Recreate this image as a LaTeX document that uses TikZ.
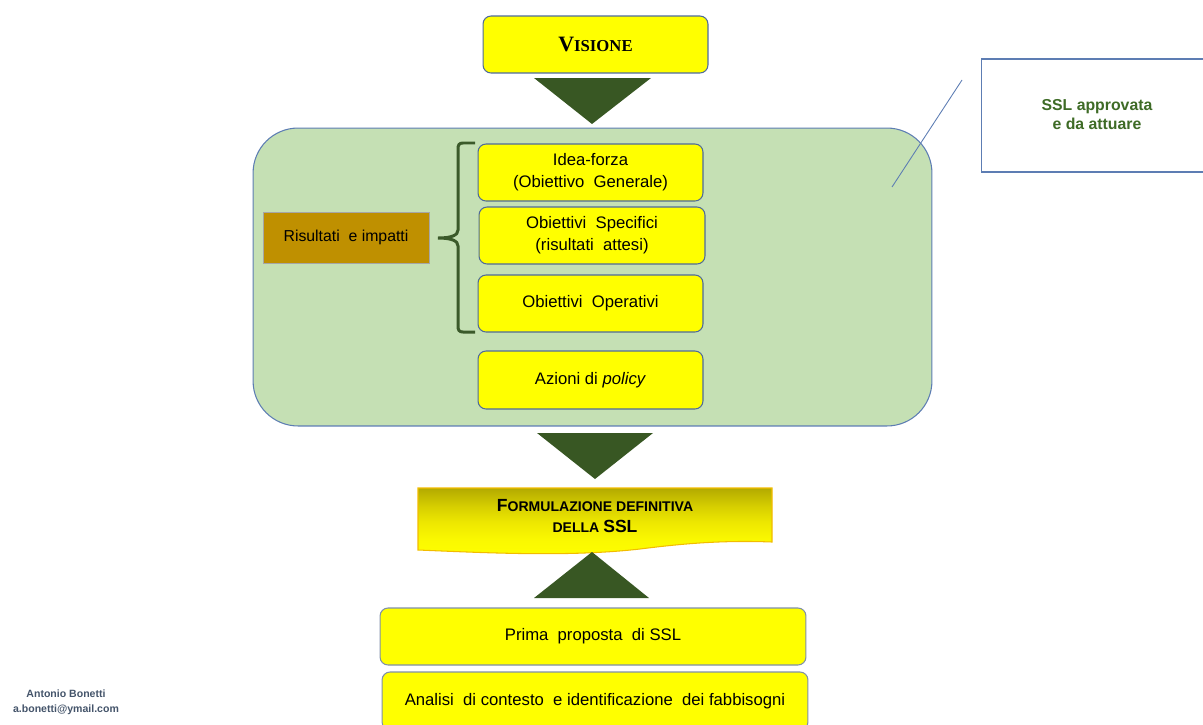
\documentclass[tikz,border=0pt]{standalone}
\usepackage{fontspec}
\setmainfont{Liberation Sans}
\newfontfamily\visfont{Liberation Serif}
\definecolor{ylw}{HTML}{FFFF00}
\definecolor{bordb}{HTML}{4F6A9A}
\definecolor{bordg}{HTML}{7F8FA9}
\definecolor{panelg}{HTML}{C5E0B4}
\definecolor{panelb}{HTML}{5D7DB3}
\definecolor{dkgreen}{HTML}{385723}
\definecolor{bracec}{HTML}{3B5A2A}
\definecolor{gold}{HTML}{BF9000}
\definecolor{goldb}{HTML}{A6A6A6}
\definecolor{sslg}{HTML}{3E6B26}
\definecolor{footc}{HTML}{44546A}
\definecolor{olivetop}{HTML}{B3AA00}
\definecolor{olivequart}{HTML}{D6CE00}
\definecolor{olivemid}{HTML}{EEE800}
\definecolor{olivelow}{HTML}{FAF800}
\definecolor{orangeb}{HTML}{F2BC00}
\pgfdeclareverticalshading{formshade}{100bp}{color(0bp)=(ylw); color(25bp)=(ylw); color(38bp)=(olivelow); color(50bp)=(olivemid); color(62bp)=(olivequart); color(75bp)=(olivetop); color(100bp)=(olivetop)}
\begin{document}
\begin{tikzpicture}[x=0.02cm,y=-0.02cm,
  ybox/.style={draw=bordb, fill=ylw, rounded corners=0.16cm, inner sep=0pt, align=center,
    line width=0.6pt, font=\fontsize{9.5}{12.5}\selectfont},
  gbox/.style={ybox, draw=bordg},
  panelbox/.style={draw=panelb, fill=panelg, rounded corners=0.9cm, line width=0.6pt, inner sep=0pt},
  tri/.style={fill=dkgreen},
  bracestyle/.style={draw=bracec, line width=1.7pt},
  callout/.style={draw=panelb, line width=0.5pt}]
\useasboundingbox (0,0) rectangle (1203,724);

% Visione
\node[ybox, minimum width=4.5cm, minimum height=1.14cm] (visione) at (595.5,44.5)
  {\visfont\bfseries{\fontsize{12.5}{14}\selectfont V}{\fontsize{9.5}{12}\selectfont ISIONE}};
\fill[tri] (534,78) -- (651,78) -- (592,124) -- cycle;

% green panel
\node[panelbox, minimum width=13.58cm, minimum height=5.96cm] (panel) at (592.5,277) {};

% callout line and box
\coordinate (calloutA) at (962,80);
\coordinate (calloutB) at (892,187);
\draw[callout] (calloutA) -- (calloutB);
\node[draw=panelb, fill=white, line width=0.6pt, minimum width=4.48cm, minimum height=2.26cm, inner sep=0pt] (sslbox) at (1093,115.5) {};
\node[align=center, text=sslg, font=\bfseries\fontsize{9}{10.8}\selectfont] (ssltext) at (1097,115) {SSL approvata\\e da attuare};

% inner boxes
\node[ybox, minimum width=4.5cm, minimum height=1.14cm] (idea) at (590.5,172.5) {Idea-forza\\(Obiettivo\ \ Generale)};
\node[ybox, minimum width=4.52cm, minimum height=1.14cm] (spec) at (592,235.5) {Obiettivi\ \ Specifici\\(risultati\ \ attesi)};
\node[ybox, minimum width=4.5cm, minimum height=1.14cm] (oper) at (590.5,303.5) {Obiettivi\ \ Operativi};
\node[ybox, minimum width=4.5cm, minimum height=1.16cm] (azioni) at (590.5,380) {Azioni di \textit{policy}};

\node[draw=goldb, fill=gold, minimum width=3.32cm, minimum height=1.02cm, inner sep=0pt,
  font=\fontsize{9}{11}\selectfont, line width=0.5pt] (risult) at (346,237.5) {Risultati\ \ e impatti};

% brace
\draw[bracestyle] (475,143) -- (463,143) .. controls (459,143) and (458,145) .. (458,149) -- (458,230)
  .. controls (458,235) and (452,238) .. (438,238)
  .. controls (452,238) and (458,241) .. (458,246) -- (458,326)
  .. controls (458,330) and (459,332) .. (463,332) -- (475,332);

\fill[tri] (537,433) -- (653,433) -- (595,479) -- cycle;

% Formulazione
\path[shading=formshade, draw=orangeb, line width=0.6pt]
  (418,488) -- (772,488) -- (772,542)
  .. controls (720,540) and (680,544) .. (640,549)
  .. controls (570,557) and (490,553) .. (418,550) -- cycle;
\node[align=center, font=\bfseries\fontsize{8}{12}\selectfont] (formul) at (595,516)
  {{\fontsize{10}{12}\selectfont F}ORMULAZIONE DEFINITIVA\\DELLA {\fontsize{10}{12}\selectfont SSL}};

\fill[tri] (534,598) -- (649,598) -- (592,552) -- cycle;

% bottom boxes
\node[gbox, minimum width=8.52cm, minimum height=1.14cm] (prima) at (593,636.5) {Prima\ \ proposta\ \ di SSL};
\node[gbox, minimum width=8.52cm, minimum height=1.16cm] (analisi) at (595,701) {Analisi\ \ di contesto\ \ e identificazione\ \ dei fabbisogni};

% footer
\node[align=center, text=footc, font=\bfseries\fontsize{6}{8.6}\selectfont] (footer) at (66,702)
  {Antonio Bonetti\\a.bonetti@ymail.com};
\end{tikzpicture}
\end{document}
